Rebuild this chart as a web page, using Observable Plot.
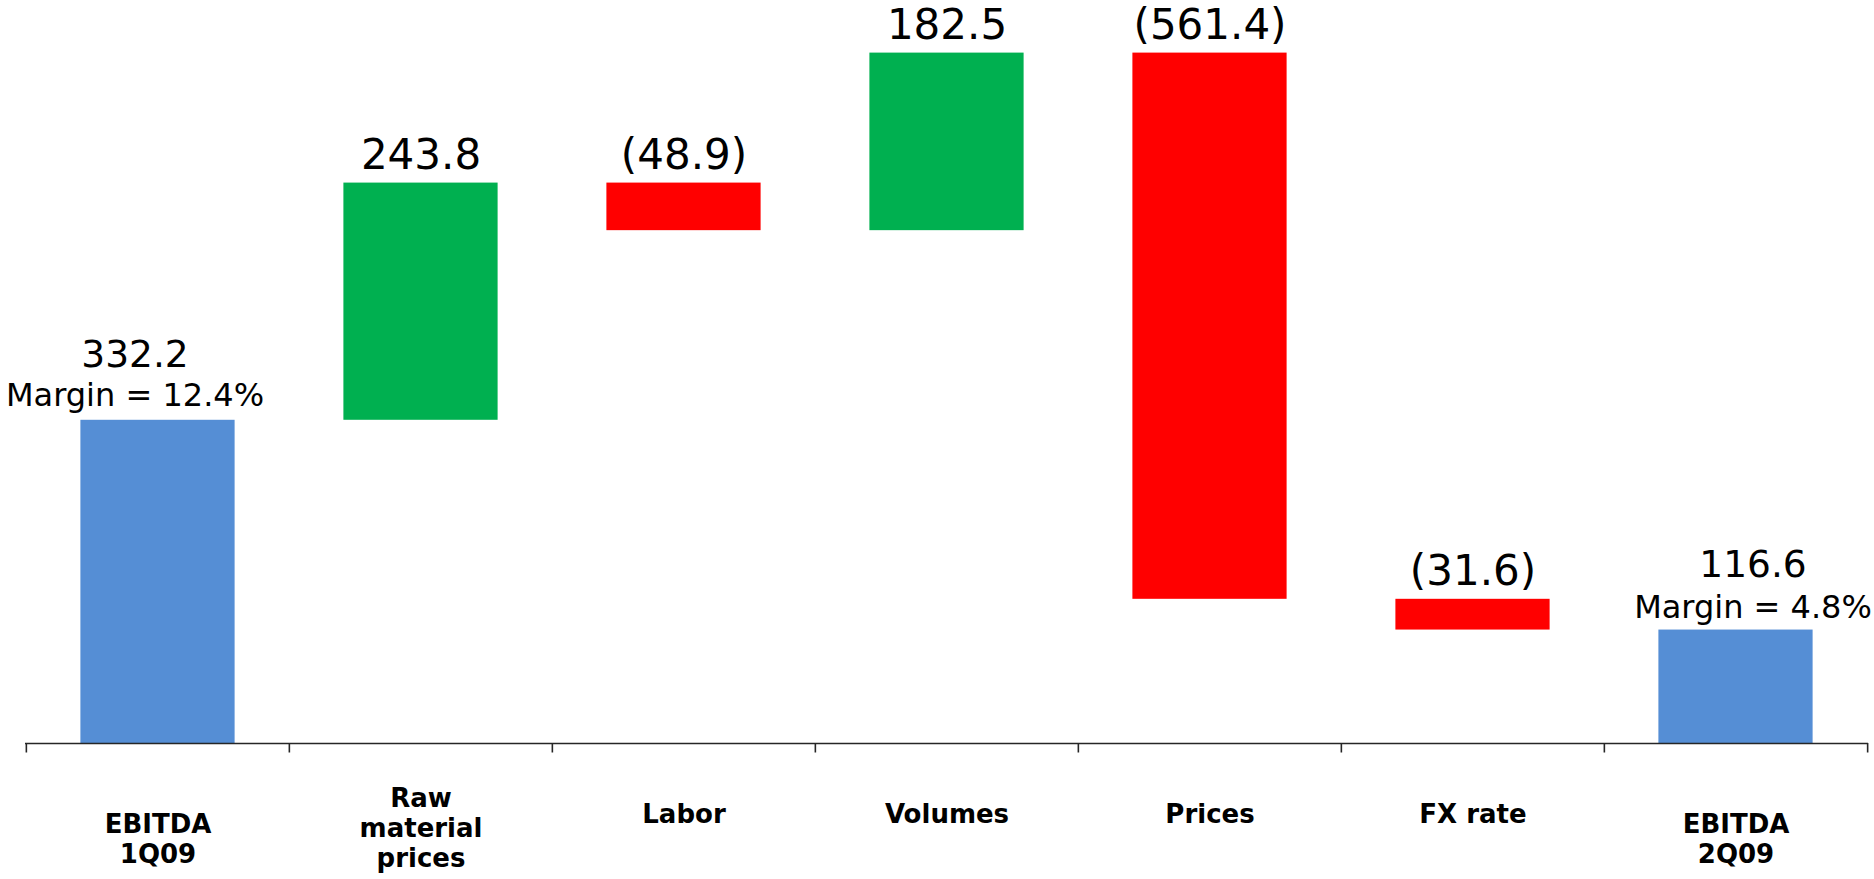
<!DOCTYPE html>
<html><head><meta charset="utf-8">
<script src="https://cdn.jsdelivr.net/npm/d3@7"></script>
<script src="https://cdn.jsdelivr.net/npm/@observablehq/plot@0.6"></script>
<style>html,body{margin:0;padding:0;background:#fff;overflow:hidden}#chart svg{display:block}</style>
</head><body><div id="chart"></div>
<script>
// ---- data ----
const categories = ["EBITDA 1Q09", "Raw material prices", "Labor", "Volumes", "Prices", "FX rate", "EBITDA 2Q09"];
const tickLabels = ["EBITDA\n1Q09", "Raw\nmaterial\nprices", "Labor", "Volumes", "Prices", "FX rate", "EBITDA\n2Q09"];
const values = [332.2, 243.8, -48.9, 182.5, -561.4, -31.6, 116.6];
const kinds = ["total", "delta", "delta", "delta", "delta", "delta", "total"];
const valueLabels = ["332.2", "243.8", "(48.9)", "182.5", "(561.4)", "(31.6)", "116.6"];
const marginLabels = ["Margin = 12.4%", "", "", "", "", "", "Margin = 4.8%"];

// ---- styling / layout ----
const colors = {total: "#558ED5", up: "#00B050", down: "#FF0000"};
const W = 1874, H = 879, mL = 25, mR = 6, mT = 52.6, mB = 136;
const bw = (W - mL - mR) / categories.length;
const barW = 154.5;
const inset = (bw - barW) / 2;
const font = "DejaVu Sans, Verdana, sans-serif";
const labelDy = {1: 70, 2: 95, 3: 84}; // vertical offset of category labels by line count

let run = 0;
const rows = categories.map((c, i) => {
  const v = values[i];
  let y1, y2, kind;
  if (kinds[i] === "total") { y1 = 0; y2 = v; run = v; kind = "total"; }
  else { y1 = run; y2 = run + v; run = y2; kind = v >= 0 ? "up" : "down"; }
  return {category: c, label: tickLabels[i], lines: tickLabels[i].split("\n").length,
          y1, y2, top: Math.max(y1, y2), kind,
          valueLabel: valueLabels[i], margin: marginLabels[i], total: kinds[i] === "total"};
});
const yMax = d3.max(rows, d => d.top);
const k = (H - mB - mT) / yMax; // px per unit
const tickLen = 9.5 / k;

const labelMarks = Object.keys(labelDy).map(n =>
  Plot.text(rows.filter(d => d.lines === +n), {x: "category", frameAnchor: "bottom", text: "label",
    lineAnchor: "middle", dy: labelDy[n], fontSize: 26, fontWeight: "bold", lineHeight: 1.15,
    fill: "#000", fontFamily: font}));

const first = rows.filter(d => d.category === categories[0]);
const last = rows.filter(d => d.category === categories[categories.length - 1]);

const chart = Plot.plot({
  width: W, height: H,
  marginLeft: mL, marginRight: mR, marginTop: mT, marginBottom: mB,
  style: {fontFamily: font, background: "#fff", overflow: "visible"},
  x: {domain: categories, padding: 0, axis: null},
  y: {domain: [0, yMax], axis: null},
  marks: [
    Plot.barY(rows, {x: "category", y1: "y1", y2: "y2", fill: d => colors[d.kind],
      insetLeft: inset, insetRight: inset}),
    Plot.ruleY([0], {stroke: "#262626", strokeWidth: 1.6}),
    Plot.ruleX(categories, {x: d => d, y1: 0, y2: -tickLen, dx: -bw / 2, stroke: "#262626", strokeWidth: 1.6}),
    Plot.ruleX(categories.slice(-1), {x: d => d, y1: 0, y2: -tickLen, dx: bw / 2, stroke: "#262626", strokeWidth: 1.6}),
    // delta value labels
    Plot.text(rows.filter(d => !d.total), {x: "category", y: "top", text: "valueLabel",
      lineAnchor: "bottom", dy: -14, fontSize: 42, fill: "#000", fontFamily: font}),
    // totals: value + margin (free-floating text boxes)
    Plot.text(first, {x: "category", y: "top", text: "valueLabel",
      lineAnchor: "bottom", dy: -53, dx: -23, fontSize: 37.5, fill: "#000", fontFamily: font}),
    Plot.text(first, {x: "category", y: "top", text: "margin",
      lineAnchor: "bottom", dy: -14, dx: -23, fontSize: 32, fill: "#000", fontFamily: font}),
    Plot.text(last, {x: "category", y: "top", text: "valueLabel",
      lineAnchor: "bottom", dy: -53, dx: 17, fontSize: 37.5, fill: "#000", fontFamily: font}),
    Plot.text(last, {x: "category", y: "top", text: "margin",
      lineAnchor: "bottom", dy: -12, dx: 17, fontSize: 32, fill: "#000", fontFamily: font}),
    ...labelMarks
  ]
});
document.getElementById("chart").appendChild(chart);
</script>
</body></html>
